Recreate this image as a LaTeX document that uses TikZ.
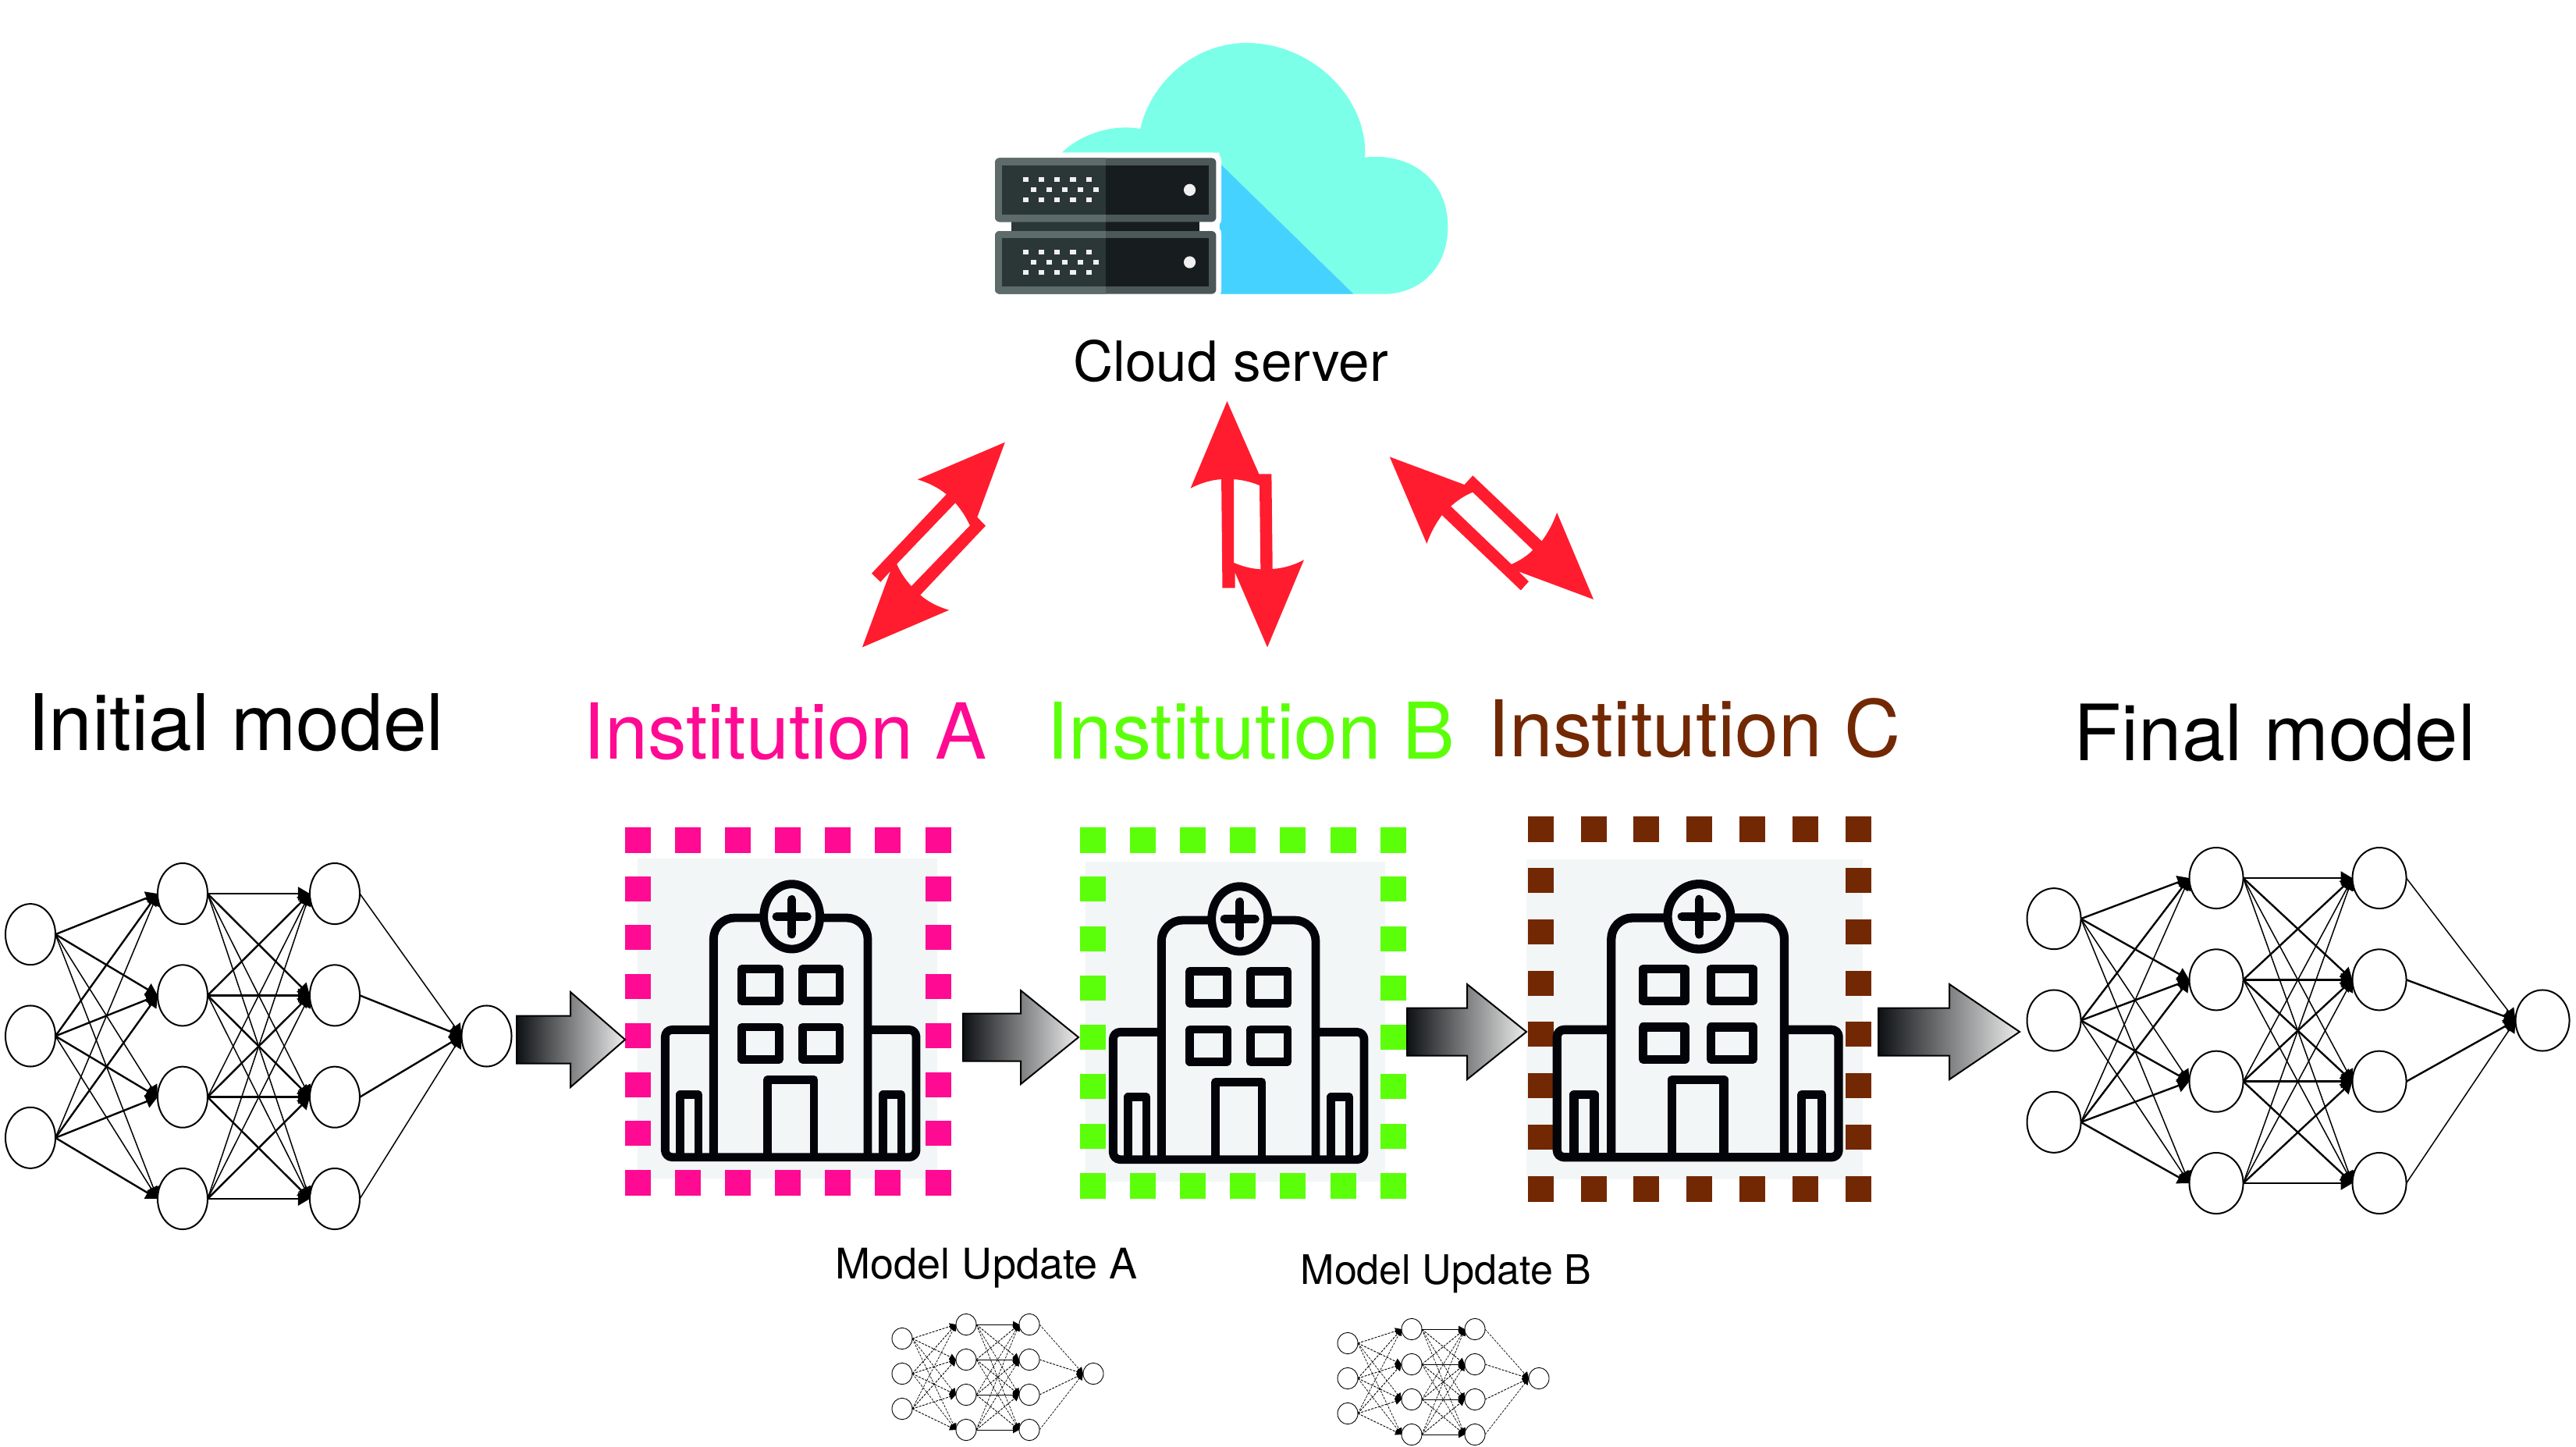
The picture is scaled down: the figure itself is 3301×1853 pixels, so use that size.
\documentclass[tikz,border=0pt]{standalone}
\usepackage{fontspec}
\setmainfont{TeX Gyre Heros}
\usetikzlibrary{arrows.meta,shapes.geometric}
\definecolor{instA}{HTML}{FF0A92}
\definecolor{instB}{HTML}{5CFF0A}
\definecolor{instC}{HTML}{722803}
\definecolor{hospbg}{HTML}{F2F6F6}
\definecolor{hospink}{HTML}{03040A}
\definecolor{cloudA}{HTML}{7BFFE9}
\definecolor{cloudB}{HTML}{46D2FF}
\definecolor{arrred}{HTML}{FF1C2E}
\definecolor{srvfl}{HTML}{5D6B6B}
\definecolor{srvfr}{HTML}{4B5759}
\definecolor{srvdl}{HTML}{2B3637}
\definecolor{srvdr}{HTML}{171D1F}
\definecolor{blockL}{HTML}{0E1114}
\definecolor{blockR}{HTML}{EDEDED}
\tikzset{
  lbl/.style={anchor=base,inner sep=0pt,outer sep=0pt},
  nnode/.style={ellipse,draw=black,inner sep=0pt,outer sep=0pt,line width=0.02cm},
  nnflat/.style={},
  nnslant/.style={},
  hosp/.style={draw=hospink,line join=round,line cap=butt},
  redarrow/.style={fill=arrred,even odd rule},
  blockarr/.style={draw=black,line width=0.02cm,left color=blockL,right color=blockR,miter limit=10}
}
% prefix, x1,x2,x3,x4, y0, dy, rx, ry
\newcommand{\nnet}[9]{%
  \foreach \i in {0,1,2}{\node[nnode,minimum width=#8*0.02cm,minimum height=#9*0.02cm] (#1a\i) at (#2,{#6+(\i+.4)*#7}) {};}
  \foreach \j in {0,1,2,3}{
    \node[nnode,minimum width=#8*0.02cm,minimum height=#9*0.02cm] (#1b\j) at (#3,{#6+\j*#7}) {};
    \node[nnode,minimum width=#8*0.02cm,minimum height=#9*0.02cm] (#1c\j) at (#4,{#6+\j*#7}) {};
  }
  \node[nnode,minimum width=#8*0.02cm,minimum height=#9*0.02cm] (#1d) at (#5,{#6+1.4*#7}) {};
  \foreach \i in {0,1,2}{\foreach \j in {0,1,2,3}{
    \pgfmathsetmacro{\lw}{abs(\i+.4-\j)<1.5?\nnthick:\nnthin}
    \draw[nnslant,line width=\lw cm,-{Triangle[length=\nnhl cm,width=\nnhw cm]}] (#1a\i.east) -- (#1b\j.west);
  }}
  \foreach \i in {0,1,2,3}{\foreach \j in {0,1,2,3}{
    \pgfmathsetmacro{\lw}{abs(\i-\j)<1.5?\nnthick:\nnthin}
    \ifnum\i=\j\def\est{nnflat}\else\def\est{nnslant}\fi
    \draw[\est,line width=\lw cm,-{Triangle[length=\nnhl cm,width=\nnhw cm]}] (#1b\i.east) -- (#1c\j.west);
  }}
  \foreach \i in {0,1,2,3}{
    \pgfmathsetmacro{\lw}{abs(\i-1.4)<1?\nnthick:\nnthin}
    \draw[nnslant,line width=\lw cm,-{Triangle[length=\nnhl cm,width=\nnhw cm]}] (#1c\i.east) -- (#1d.west);
  }
}
% colour, xleft, xright, ytop, ybottom
\newcommand{\dotframe}[5]{%
  \foreach \i in {0,...,6}{
    \pgfmathsetmacro{\px}{#2+\i*(#3-#2)/6}
    \fill[#1] (\px-16.5,#4-16.5) rectangle (\px+16.5,#4+16.5);
    \fill[#1] (\px-16.5,#5-16.5) rectangle (\px+16.5,#5+16.5);
  }
  \foreach \i in {1,...,6}{
    \pgfmathsetmacro{\py}{#4+\i*(#5-#4)/7}
    \fill[#1] (#2-16.5,\py-16) rectangle (#2+16.5,\py+16);
    \fill[#1] (#3-16.5,\py-16) rectangle (#3+16.5,\py+16);
  }
}
% ox, oy, xscale, line width
\newcommand{\hospital}[4]{%
  \begin{scope}[shift={(#1,#2)},xscale=#3,yscale=0.33333,hosp,line width=#4cm]
    \draw[rounded corners=0.27cm] (403,1358)--(403,438)--(590,438);
    \draw[rounded corners=0.27cm] (818,438)--(996,438)--(996,1358);
    \draw[rounded corners=0.09cm] (403,868)--(217,868)--(217,1358)--(1182,1358)--(1182,868)--(996,868);
    \draw (704,433) ellipse [x radius=108,y radius=125];
    \draw[line cap=round] (645,433)--(763,433);
    \draw[line cap=round] (704,367)--(704,501);
    \draw (512.5,634) rectangle (655,757.5);
    \draw (745,634) rectangle (888,757.5);
    \draw (512.5,858) rectangle (655,982);
    \draw (745,858) rectangle (888,982);
    \draw (611,1358)--(611,1060)--(789,1060)--(789,1358);
    \draw (275.5,1358)--(275.5,1118)--(345,1118)--(345,1358);
    \draw (1055.5,1358)--(1055.5,1118)--(1125,1118)--(1125,1358);
  \end{scope}
}
% xleft, xbase, xtip, ytip, shaft half, head half
\newcommand{\blockarrow}[6]{%
  \path[blockarr] (#1,{#4-#5}) -- (#2,{#4-#5}) -- (#2,{#4-#6}) -- (#3,#4) -- (#2,{#4+#6}) -- (#2,{#4+#5}) -- (#1,{#4+#5}) -- cycle;
}
% y-top frame, y-bottom frame, y-top face, y-bottom face
\newcommand{\srvunit}[4]{%
  \fill[srvfr,rounded corners=0.06cm] (168,#1) rectangle (803,#2);
  \begin{scope}
    \clip (160,#1) rectangle (486,#2);
    \fill[srvfl,rounded corners=0.06cm] (168,#1) rectangle (803,#2);
  \end{scope}
  \fill[srvdl] (189,#3) rectangle (486,#4);
  \fill[srvdr] (486,#3) rectangle (782,#4);
}
% y of the three rows of dots and lamp
\newcommand{\srvdots}[3]{%
  \foreach \n in {0,...,4}{
    \pgfmathsetmacro{\da}{257+45*\n}
    \pgfmathsetmacro{\db}{279+45*\n}
    \fill[white!94!black] (\da-8,#1-9) rectangle (\da+8,#1+9);
    \fill[white!94!black] (\db-8,#2-9) rectangle (\db+8,#2+9);
    \fill[white!94!black] (\da-8,#3-9) rectangle (\da+8,#3+9);
  }
  \fill[white!94!black] (727,#2) ellipse [x radius=17,y radius=23];
}
\begin{document}
\begin{tikzpicture}[x=0.01cm,y=-0.01cm]
\useasboundingbox (0,0) rectangle (3301,1853);
\fill[white] (0,0) rectangle (3301,1853);

% cloud and server
\begin{scope}[shift={(1200,20)},xscale=0.4464,yscale=0.33333]
  \fill[cloudA] (360,527) .. controls (410,460) and (500,415) .. (585,435)
     .. controls (620,240) and (750,105) .. (890,105)
     .. controls (1080,105) and (1240,320) .. (1230,545)
     .. controls (1350,525) and (1468,620) .. (1468,810)
     .. controls (1468,980) and (1380,1070) .. (1285,1070)
     -- (812,1070) -- (812,527) -- cycle;
  \fill[cloudB] (815,570) -- (1197,1070) -- (812,1070) -- cycle;
  \fill[white,rounded corners=0.1cm] (150,527) rectangle (818,812);
  \fill[white,rounded corners=0.1cm] (150,808) rectangle (818,1085);
  \fill[srvdl] (215,793) rectangle (486,828);
  \fill[srvdr] (486,793) rectangle (755,828);
  \srvunit{547}{793}{577}{765}
  \srvunit{828}{1070}{855}{1042}
  \srvdots{631}{670}{708}
  \srvdots{910}{948}{987}
\end{scope}
\node[lbl,font=\fontsize{20.2}{24}\selectfont] (cloudlabel) at (1577,488) {Cloud server};

% red double arrows
\begin{scope}[shift={(1050,500)},xscale=0.6698,yscale=0.33333]
  \fill[redarrow] (355,200) -- (302,488) -- (318,521) -- (193,787)
     .. controls (207,812) and (226,832) .. (248,845) -- (82,988) -- (136,695) -- (117,737) -- (100,704) -- (243,400)
     .. controls (228,375) and (208,355) .. (188,343) -- cycle
     (260,433) .. controls (272,460) and (281,490) .. (288,520) -- (176,753)
     .. controls (163,725) and (154,695) .. (148,668) -- cycle;
  \fill[redarrow] (780,42) -- (841,322) -- (865,322) -- (867,687)
     .. controls (890,684) and (910,670) .. (927,652) -- (857,988) -- (795,700) -- (795,760) -- (771,760) -- (769,342)
     .. controls (748,345) and (728,358) .. (710,377) -- cycle
     (793,342) .. controls (812,345) and (830,355) .. (842,366) -- (844,688)
     .. controls (825,686) and (808,676) .. (793,663) -- cycle;
  \fill[redarrow] (1091,256) -- (1234,363) -- (1250,328) -- (1382,580)
     .. controls (1395,545) and (1405,505) .. (1411,470) -- (1481,804) -- (1338,697) -- (1357,735) -- (1342,769) -- (1191,480)
     .. controls (1178,515) and (1168,555) .. (1162,590) -- cycle
     (1250,392) -- (1365,614) .. controls (1355,635) and (1340,655) .. (1324,669) -- (1208,446)
     .. controls (1218,428) and (1233,405) .. (1250,392) -- cycle;
\end{scope}

% titles
\node[lbl,font=\fontsize{28.45}{34}\selectfont] (initlabel) at (302,961) {Initial model};
\node[lbl,font=\fontsize{28.15}{34}\selectfont,text=instA] (labelA) at (1006,972) {Institution A};
\node[lbl,font=\fontsize{28.5}{34}\selectfont,text=instB] (labelB) at (1603,972) {Institution B};
\node[lbl,font=\fontsize{28.5}{34}\selectfont,text=instC] (labelC) at (2171,969) {Institution C};
\node[lbl,font=\fontsize{28.3}{34}\selectfont] (finallabel) at (2915,974) {Final model};
\node[lbl,font=\fontsize{15.35}{19}\selectfont] (updA) at (1264,1638) {Model Update A};
\node[lbl,font=\fontsize{14.8}{19}\selectfont] (updB) at (1853,1645) {Model Update B};

% institutions
\fill[hospbg] (817,1100) rectangle (1201,1510);
\dotframe{instA}{817.3}{1202}{1076}{1515}
\hospital{780}{1030}{0.33333}{0.108}
\fill[hospbg] (1391,1104) rectangle (1775,1514);
\dotframe{instB}{1400.3}{1785.3}{1076}{1519}
\hospital{1354}{1033}{0.33333}{0.108}
\fill[hospbg] (1956,1101) rectangle (2387,1511);
\dotframe{instC}{1974.3}{2381}{1062}{1523}
\hospital{1914.1}{1030}{0.3739}{0.113}

% block arrows
\blockarrow{662}{731}{801}{1332}{30.5}{61}
\blockarrow{1234}{1308}{1382}{1329}{30.5}{60}
\blockarrow{1803}{1880}{1956}{1322}{30.5}{61}
\blockarrow{2407}{2498}{2588}{1322}{30.5}{61}

% networks
\def\nnthick{0.024}\def\nnthin{0.015}\def\nnhl{0.15}\def\nnhw{0.17}
\nnet{ini}{39}{234}{429}{623.5}{1145}{130.33}{32}{39}
\nnet{fin}{2632}{2840}{3049}{3258}{1125}{130.33}{34.5}{39}
\def\nnthick{0.009}\def\nnthin{0.007}\def\nnhl{0.08}\def\nnhw{0.085}
\tikzset{
  nnode/.append style={line width=0.009cm},
  nnflat/.style={line width=0.015cm},
  nnslant/.style={dash pattern=on 0.03cm off 0.015cm}
}
\nnet{upa}{1156}{1238}{1319}{1401}{1697}{45}{13}{13.7}
\nnet{upb}{1727}{1809}{1890}{1972}{1703}{45}{13}{13.7}
\end{tikzpicture}
\end{document}
